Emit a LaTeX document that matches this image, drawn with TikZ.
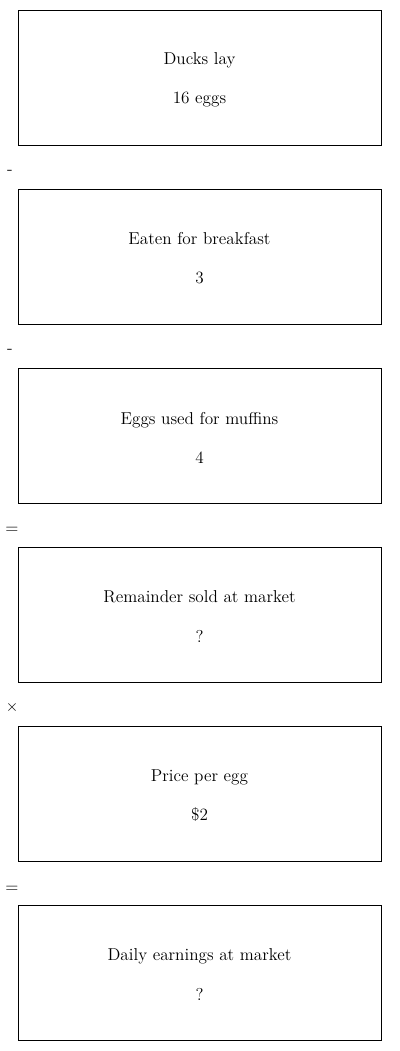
\documentclass[tikz,border=0pt]{standalone}
\begin{document}
\begin{tikzpicture}[x=0.75pt,y=-0.75pt,
  stepbox/.style={draw=black,line width=0.75pt,minimum width=363*0.75pt,minimum height=135*0.75pt,inner sep=0pt},
  boxtext/.style={inner sep=0pt,align=center,font=\fontsize{12.9}{15.5}\selectfont},
  opsym/.style={inner sep=0pt,font=\fontsize{12.9}{15.5}\selectfont}]
\useasboundingbox (0,0) rectangle (400,1051);
\node[stepbox] (b1) at (199.5,77.5) {};
\node[stepbox] (b2) at (199.5,256.5) {};
\node[stepbox] (b3) at (199.5,435.5) {};
\node[stepbox] (b4) at (199.5,614.5) {};
\node[stepbox] (b5) at (199.5,793.5) {};
\node[stepbox] (b6) at (199.5,972.5) {};
\node[boxtext] (t1) at ([yshift=-1.5pt]b1.center) {Ducks lay\\[13.8pt]16 eggs};
\node[boxtext] (t2) at ([yshift=-1.5pt]b2.center) {Eaten for breakfast\\[13.8pt]3};
\node[boxtext] (t3) at ([yshift=-1.5pt]b3.center) {Eggs used for muffins\\[13.8pt]4};
\node[boxtext] (t4) at ([yshift=-1.5pt]b4.center) {Remainder sold at market\\[13.8pt]?};
\node[boxtext] (t5) at ([yshift=-1.5pt]b5.center) {Price per egg\\[13.8pt]\$2};
\node[boxtext] (t6) at ([yshift=-1.5pt]b6.center) {Daily earnings at market\\[13.8pt]?};
\node[opsym] (o1) at (10,172) {-};
\node[opsym] (o2) at (10,351) {-};
\node[opsym] (o3) at (12,530) {=};
\node[opsym] (o4) at (12,707) {$\times$};
\node[opsym] (o5) at (12,889) {=};
\end{tikzpicture}
\end{document}
